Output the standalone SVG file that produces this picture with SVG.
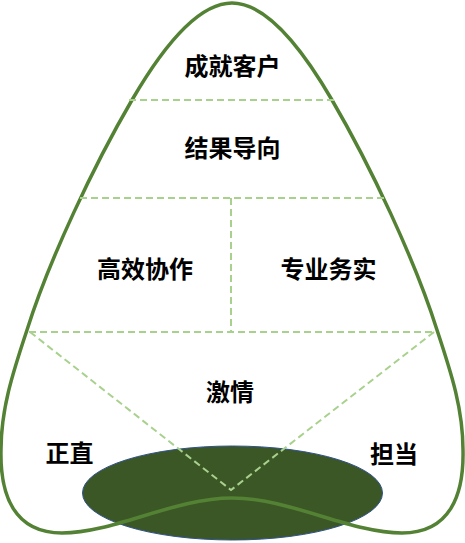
<svg xmlns="http://www.w3.org/2000/svg" width="465" height="543" viewBox="0 0 465 543">
<style>
.lbl{font-family:"Noto Sans CJK SC","Noto Sans",sans-serif;font-weight:bold;font-size:24px;fill:#000;text-anchor:middle}
.dash{fill:none;stroke:#a9d18e;stroke-width:2;stroke-dasharray:7 4}
</style>
<rect width="465" height="543" fill="#fff"/>
<g id="base">
<ellipse cx="232.5" cy="493" rx="150" ry="47" fill="#3b5725" stroke="#2f528f" stroke-width="1"/>
</g>
<g id="outline">
<path d="M232 3 C265 3 300 45 332 100 C370 165 415 260 437 330 C452 375 463 410 463 450 C464 495 450 533 402 533 C350 533 290 498 232 498 C174 498 114 533 62 533 C14 533 0 495 1 450 C1 410 12 375 27 330 C49 260 94 165 132 100 C164 45 199 3 232 3 Z" fill="none" stroke="#548235" stroke-width="3.5"/>
</g>
<g id="connectors">
<line class="dash" x1="129" y1="100" x2="334" y2="100"/>
<line class="dash" x1="80" y1="198" x2="384" y2="198"/>
<line class="dash" x1="231" y1="198" x2="231" y2="332"/>
<line class="dash" x1="29" y1="332" x2="435" y2="332"/>
<polyline class="dash" points="30,332 231,490 434,332"/>
</g>
<g id="n1"><text class="lbl" x="232.5" y="75">成就客户</text></g>
<g id="n2"><text class="lbl" x="232.5" y="157">结果导向</text></g>
<g id="n3"><text class="lbl" x="145" y="278">高效协作</text></g>
<g id="n4"><text class="lbl" x="328.5" y="278">专业务实</text></g>
<g id="n5"><text class="lbl" x="230" y="401">激情</text></g>
<g id="n6"><text class="lbl" x="69.5" y="462">正直</text></g>
<g id="n7"><text class="lbl" x="394" y="463">担当</text></g>
</svg>
